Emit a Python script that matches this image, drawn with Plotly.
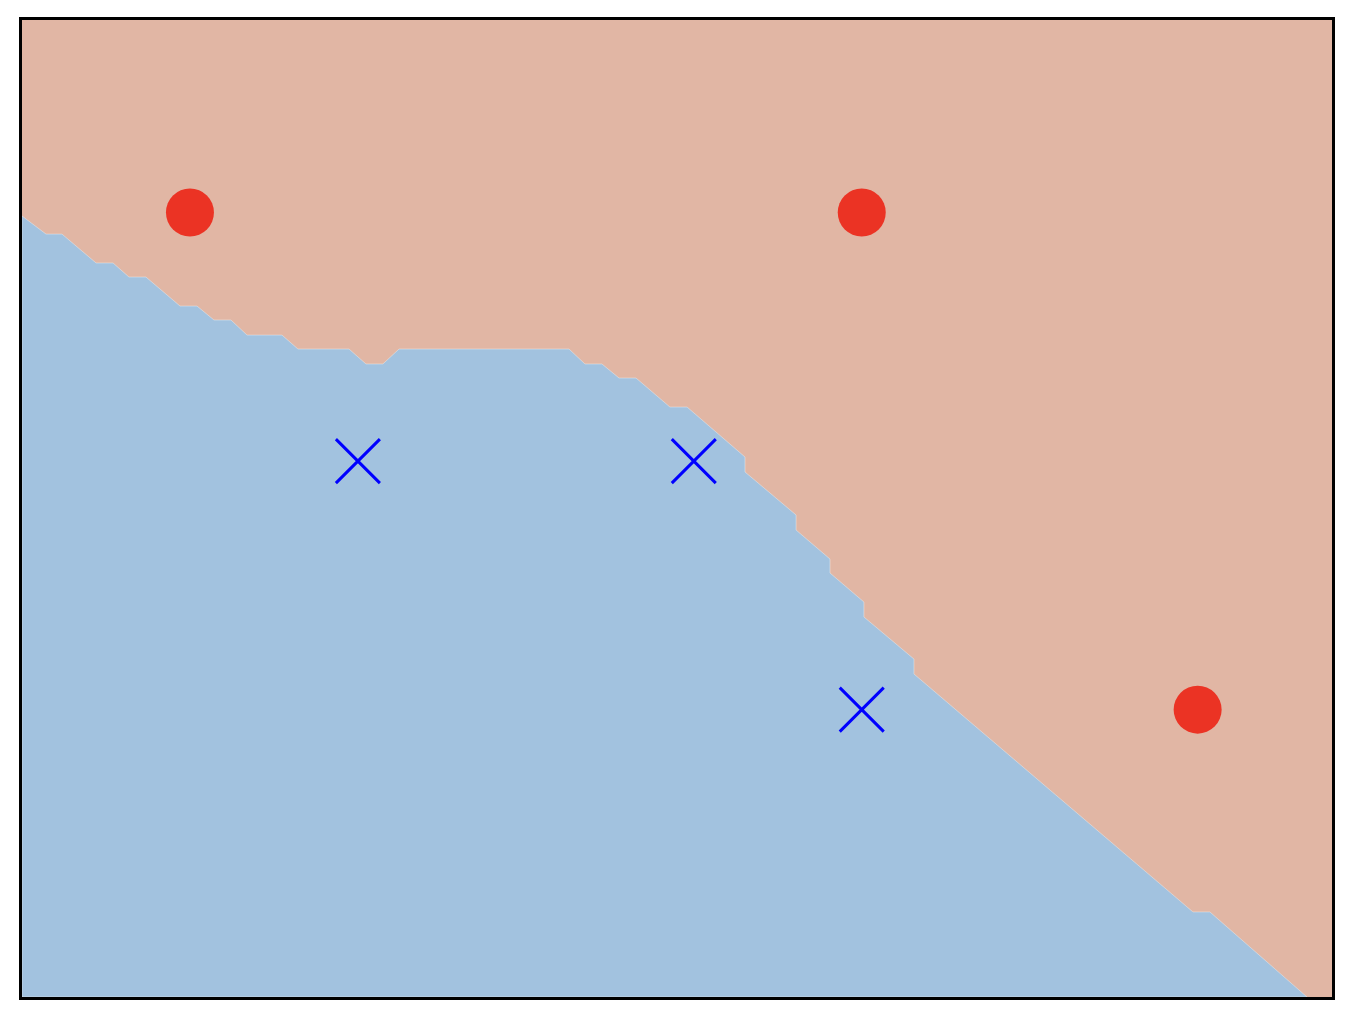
import plotly.graph_objects as go

# Class 1 (red circles)
circle_x = [0.0, 4.0, 6.0]
circle_y = [3.46, 3.46, 0.0]
# Class 2 (blue crosses)
cross_x = [1.0, 3.0, 4.0]
cross_y = [1.73, 1.73, 0.0]

# Decision boundary (contour between the two predicted regions), left to right
boundary_x = [-1.0, -0.857, -0.762, -0.559, -0.458, -0.363, -0.262, -0.059, 0.042,
              0.143, 0.244, 0.340, 0.548, 0.643, 0.947, 1.048, 1.149, 1.245, 2.257,
              2.352, 2.453, 2.555, 2.656, 2.858, 2.960, 3.305, 3.305, 3.609, 3.609,
              3.811, 3.811, 4.013, 4.013, 4.311, 4.311, 5.972, 6.073, 6.651]
boundary_y = [3.436, 3.310, 3.310, 3.109, 3.109, 3.011, 3.011, 2.809, 2.809,
              2.712, 2.712, 2.607, 2.607, 2.510, 2.510, 2.406, 2.406, 2.510, 2.510,
              2.406, 2.406, 2.308, 2.308, 2.106, 2.106, 1.758, 1.654, 1.355, 1.250,
              1.048, 0.951, 0.749, 0.645, 0.352, 0.248, -1.408, -1.408, -2.0]

x_range = [-1.0, 6.8]
y_range = [-2.0, 4.8]

RED_BG = "#e1b6a4"
BLUE_BG = "#a2c2df"

fig = go.Figure()

# blue region: below the boundary
poly_x = boundary_x + [x_range[0], x_range[0]]
poly_y = boundary_y + [y_range[0], boundary_y[0]]
fig.add_trace(go.Scatter(x=poly_x, y=poly_y, mode="lines", fill="toself",
                         fillcolor=BLUE_BG, line=dict(color="rgba(235,235,235,0.6)", width=0.8),
                         hoverinfo="skip"))

fig.add_trace(go.Scatter(x=circle_x, y=circle_y, mode="markers",
                         marker=dict(symbol="circle", size=48, color="#eb3324",
                                     line=dict(width=0))))
fig.add_trace(go.Scatter(x=cross_x, y=cross_y, mode="markers",
                         marker=dict(symbol="x-thin", size=44, color="#0000ff",
                                     line=dict(width=3, color="#0000ff"))))

axis_common = dict(showticklabels=False, showgrid=False, zeroline=False, ticks="",
                   showline=True, mirror=True, linecolor="black", linewidth=2.5)
fig.update_xaxes(range=x_range, **axis_common)
fig.update_yaxes(range=y_range, **axis_common)

fig.update_layout(width=1354, height=1024, showlegend=False,
                  plot_bgcolor=RED_BG, paper_bgcolor="white",
                  margin=dict(l=22, r=22, t=20, b=27))

fig.write_html("out.html")
